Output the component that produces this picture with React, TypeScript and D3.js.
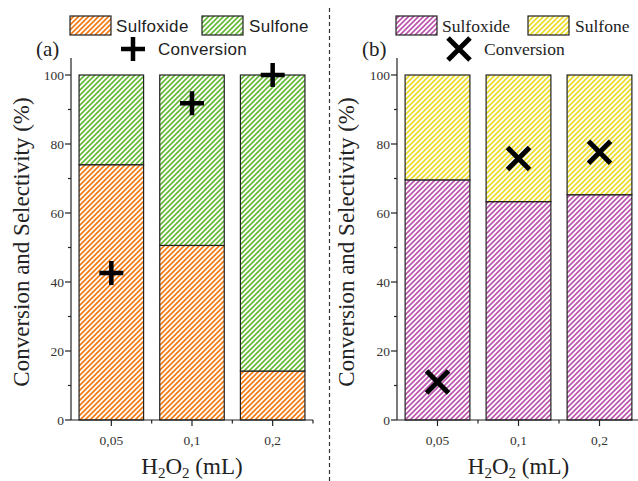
import React from "react";
import * as d3 from "d3";

const categories = ["0,05", "0,1", "0,2"];
const sulfoxideA = [74, 50.6, 14.2];
const sulfoneA = [26, 49.4, 85.8];
const conversionA = [42.6, 91.8, 100];
const sulfoxideB = [69.6, 63.3, 65.3];
const sulfoneB = [30.4, 36.7, 34.7];
const conversionB = [11, 75.8, 77.6];
const yTicks = [0, 20, 40, 60, 80, 100];
const yMinor = [10, 30, 50, 70, 90];

const W = 638;
const H = 481;
const serif = "'Liberation Serif', 'Times New Roman', serif";
const sans = "'Liberation Sans', Arial, sans-serif";

const y = d3.scaleLinear().domain([0, 100]).range([420, 75]);

function Pattern({ id, color }: { id: string; color: string }) {
  const w = 5;
  return (
    <pattern id={id} patternUnits="userSpaceOnUse" width={w} height={w}>
      <rect width={w} height={w} fill="#fff" />
      <path
        d={`M-1,1 l2,-2 M0,${w} l${w},-${w} M${w - 1},${w + 1} l2,-2`}
        stroke={color}
        strokeWidth={1.7}
      />
    </pattern>
  );
}

function Marker({ kind, cx, cy }: { kind: string; cx: number; cy: number }) {
  const r = 12;
  if (kind === "plus") {
    return (
      <path
        d={`M${cx - r},${cy} H${cx + r} M${cx},${cy - r} V${cy + r}`}
        stroke="#000"
        strokeWidth={4.5}
        fill="none"
      />
    );
  }
  const q = 11;
  return (
    <path
      d={`M${cx - q},${cy - q} L${cx + q},${cy + q} M${cx - q},${cy + q} L${cx + q},${cy - q}`}
      stroke="#000"
      strokeWidth={5}
      fill="none"
    />
  );
}

function Panel({
  x0,
  x1,
  sulfoxide,
  sulfone,
  conversion,
  pA,
  pB,
  marker,
  label,
  legendFont,
  legX,
  titleX,
}: any) {
  const x = d3.scaleBand<string>().domain(categories).range([x0, x1]).paddingInner(0.2).paddingOuter(0.1);
  const step = x.step();
  const minorX = categories.map((_, i) => x0 + step * (i + 1));
  const isSans = legendFont === "sans";
  const lf = isSans ? sans : serif;
  const lfs = isSans ? 17 : 17.5;
  const ls = isSans ? 0.3 : 0;
  return (
    <g>
      {categories.map((c, i) => {
        const bx = x(c)!;
        const bw = x.bandwidth();
        return (
          <g key={c}>
            <rect x={bx} y={y(sulfoxide[i])} width={bw} height={y(0) - y(sulfoxide[i])} fill={`url(#${pA})`} stroke="#222" strokeWidth={1.2} />
            <rect
              x={bx}
              y={y(sulfoxide[i] + sulfone[i])}
              width={bw}
              height={y(sulfoxide[i]) - y(sulfoxide[i] + sulfone[i])}
              fill={`url(#${pB})`}
              stroke="#222"
              strokeWidth={1.2}
            />
          </g>
        );
      })}
      {categories.map((c, i) => (
        <Marker key={c} kind={marker} cx={x(c)! + x.bandwidth() / 2} cy={y(conversion[i])} />
      ))}
      {/* y axis */}
      <line x1={x0} x2={x0} y1={y(0)} y2={y(100) - 17} stroke="#222" strokeWidth={1.2} />
      {yTicks.map((t) => (
        <g key={t}>
          <line x1={x0 - 6} x2={x0} y1={y(t)} y2={y(t)} stroke="#222" strokeWidth={1.2} />
          <text x={x0 - 7} y={y(t) + 4.5} textAnchor="end" fontFamily={serif} fontSize={13.5} fill="#333">
            {t}
          </text>
        </g>
      ))}
      {yMinor.map((t) => (
        <line key={t} x1={x0 - 3} x2={x0} y1={y(t)} y2={y(t)} stroke="#222" strokeWidth={1.2} />
      ))}
      {/* x axis */}
      <line x1={x0} x2={x1} y1={y(0)} y2={y(0)} stroke="#222" strokeWidth={1.2} />
      {categories.map((c) => (
        <g key={c}>
          <line x1={x(c)! + x.bandwidth() / 2} x2={x(c)! + x.bandwidth() / 2} y1={y(0)} y2={y(0) + 6} stroke="#222" strokeWidth={1.2} />
          <text x={x(c)! + x.bandwidth() / 2} y={445} textAnchor="middle" fontFamily={serif} fontSize={13.5} fill="#333">
            {c}
          </text>
        </g>
      ))}
      {minorX.map((m, i) => (
        <line key={i} x1={m} x2={m} y1={y(0)} y2={y(0) + 3.5} stroke="#222" strokeWidth={1.2} />
      ))}
      {/* titles */}
      <text
        transform={`translate(${titleX},${242}) rotate(-90)`}
        textAnchor="middle"
        fontFamily={serif}
        fontSize={23}
        fill="#222"
      >
        Conversion and Selectivity (%)
      </text>
      <text x={(x0 + x1) / 2} y={474} textAnchor="middle" fontFamily={serif} fontSize={23} fill="#222">
        H<tspan fontSize={15} dy={4}>2</tspan>
        <tspan dy={-4}>O</tspan>
        <tspan fontSize={15} dy={4}>2</tspan>
        <tspan dy={-4}> (mL)</tspan>
      </text>
      <text x={legX - 34} y={56} fontFamily={serif} fontSize={21} fill="#222">
        {label}
      </text>
      {/* legend */}
      <rect x={legX} y={16} width={41} height={19} fill={`url(#${pA})`} stroke="#222" strokeWidth={1.2} />
      <text x={legX + 46} y={32} fontFamily={lf} fontSize={lfs} fill="#222" letterSpacing={ls}>
        Sulfoxide
      </text>
      <rect x={legX + 132} y={16} width={41} height={19} fill={`url(#${pB})`} stroke="#222" strokeWidth={1.2} />
      <text x={legX + 179} y={32} fontFamily={lf} fontSize={lfs} fill="#222" letterSpacing={ls}>
        Sulfone
      </text>
      <Marker kind={marker} cx={legX + 63} cy={49} />
      <text x={legX + 88} y={55} fontFamily={lf} fontSize={lfs} fill="#222" letterSpacing={ls}>
        Conversion
      </text>
    </g>
  );
}

export default function App() {
  return (
    <svg width={W} height={H} style={{ position: "absolute", left: 0, top: 0, background: "#fff" }}>
      <defs>
        <Pattern id="hOrange" color="#F47A12" />
        <Pattern id="hGreen" color="#66BA38" />
        <Pattern id="hPink" color="#BC55AE" />
        <Pattern id="hYellow" color="#EBDD2A" />
      </defs>
      <rect width={W} height={H} fill="#fff" />
      <Panel
        x0={71}
        x1={313}
        sulfoxide={sulfoxideA}
        sulfone={sulfoneA}
        conversion={conversionA}
        pA="hOrange"
        pB="hGreen"
        marker="plus"
        label="(a)"
        legendFont="sans"
        legX={70}
        titleX={29}
      />
      <Panel
        x0={397}
        x1={640}
        sulfoxide={sulfoxideB}
        sulfone={sulfoneB}
        conversion={conversionB}
        pA="hPink"
        pB="hYellow"
        marker="x"
        label="(b)"
        legendFont="serif"
        legX={396}
        titleX={354}
      />
      <line x1={329.5} x2={329.5} y1={8} y2={481} stroke="#333" strokeWidth={1.2} strokeDasharray="4,3" />
    </svg>
  );
}
